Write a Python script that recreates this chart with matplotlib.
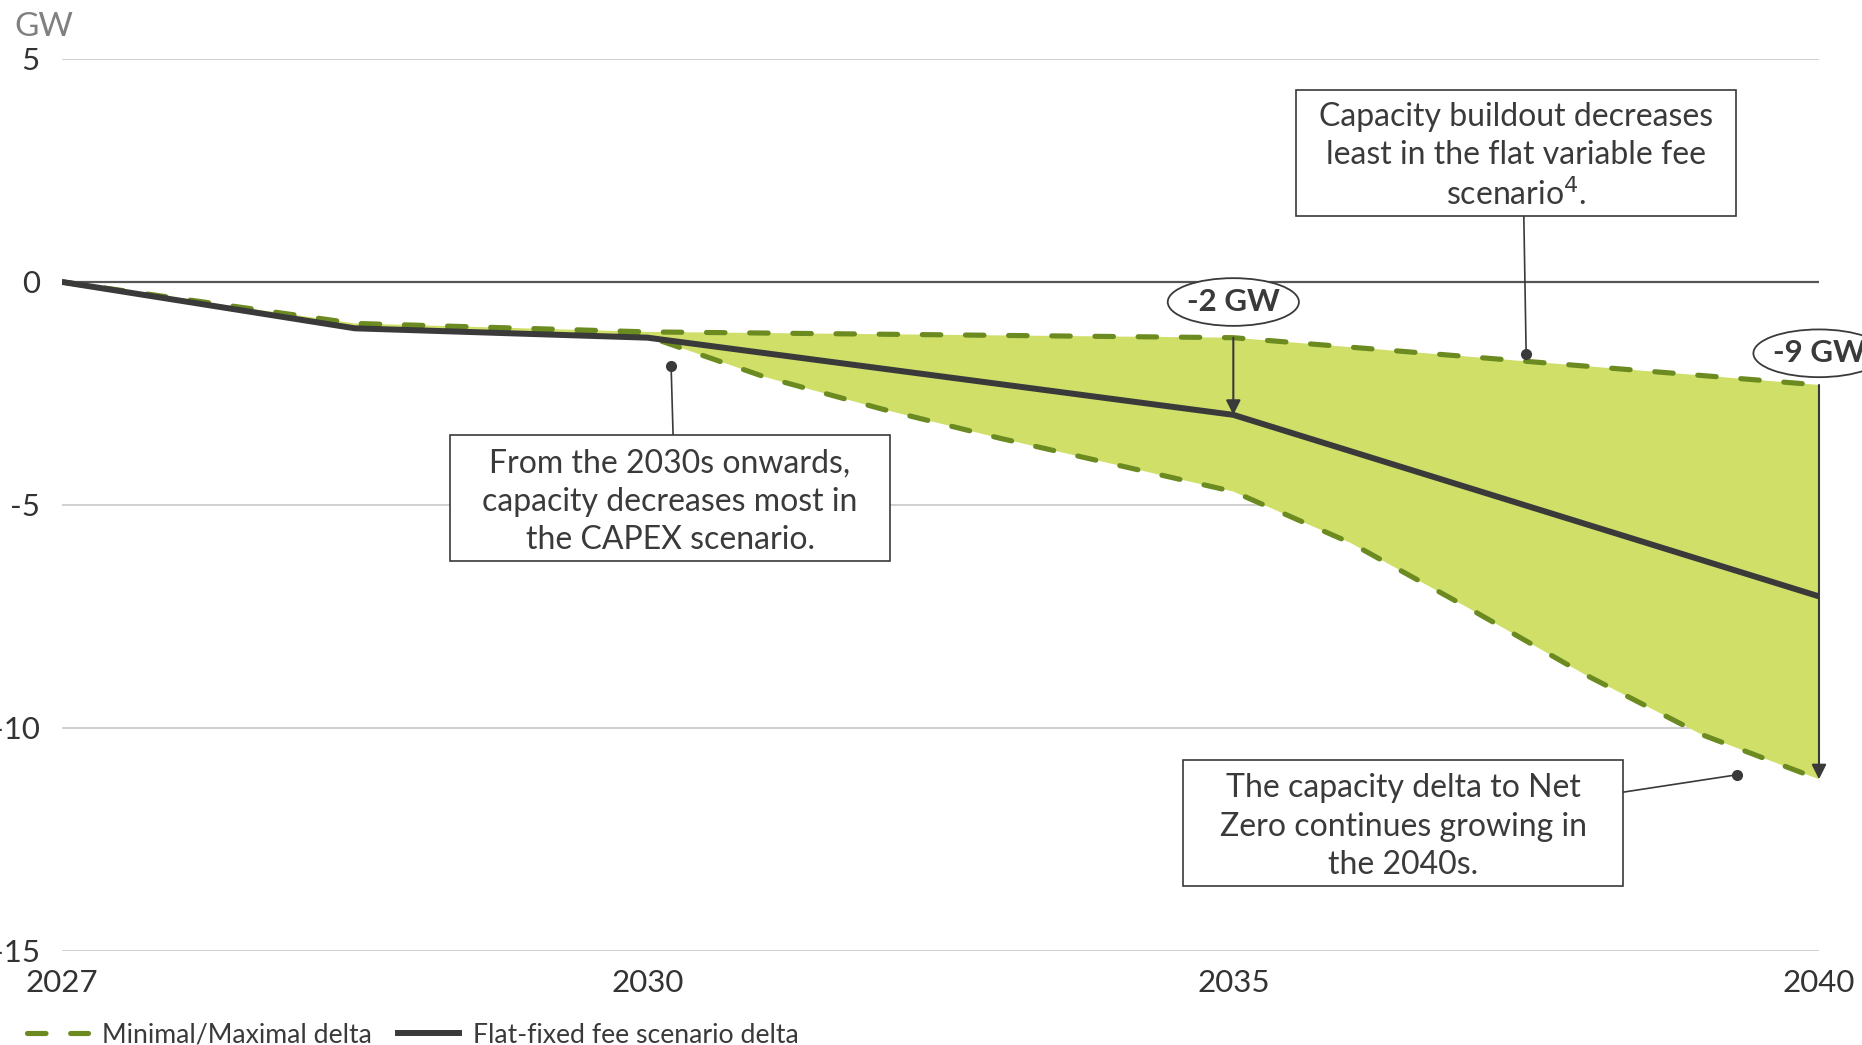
import numpy as np
import matplotlib
matplotlib.use("Agg")
import matplotlib.pyplot as plt
from matplotlib.patches import Ellipse, Rectangle
from matplotlib.lines import Line2D

plt.rcParams['font.family'] = ['Lato', 'DejaVu Sans']
plt.rcParams['axes.unicode_minus'] = False

# data (GW delta vs Net Zero)
years_upper = [2027, 2028.5, 2030, 2035, 2040]
upper = [0, -0.93, -1.12, -1.25, -2.31]

years_lower = [2027, 2028.5, 2030, 2031, 2032, 2033, 2034, 2035, 2036, 2037, 2038, 2039, 2040]
lower = [0, -1.0, -1.22, -2.13, -2.85, -3.5, -4.1, -4.7, -5.85, -7.3, -8.8, -10.15, -11.15]

years_flat = [2027, 2028.5, 2030, 2035, 2040]
flat = [0, -1.04, -1.25, -2.98, -7.05]

tick_years = [2027, 2030, 2035, 2040]
y_ticks = [5, 0, -5, -10, -15]
y_labels = ['5', '0', '-5', '-10', '-15']

GREEN = '#6b8a1f'
FILL = '#cfdf68'
DARK = '#3a3a3a'
GRID = '#c8c8c8'

# uneven year axis: 2027-2030 takes as much room as 2030-2035
ref_years = [2000, 2027, 2030, 2035, 2040, 2100]
ref_pos = [-9, 0, 1, 2, 3, 15]


def fwd(x):
    return np.interp(x, ref_years, ref_pos)


def inv(p):
    return np.interp(p, ref_pos, ref_years)


fig = plt.figure(figsize=(18.62, 10.45), dpi=100)
ax = fig.add_axes([0.0333, 0.0900, 0.9436, 0.8536])
ax.set_xscale('function', functions=(fwd, inv))
ax.set_xlim(2027, 2040)
ax.set_ylim(-15, 5)

for s in ax.spines.values():
    s.set_visible(False)
for y in y_ticks:
    if y == 0:
        ax.axhline(0, color='#555555', lw=1.6, zorder=1)
    else:
        ax.axhline(y, color=GRID, lw=1.2, zorder=0)

ax.set_yticks(y_ticks)
ax.set_yticklabels(y_labels)
ax.set_xticks(tick_years)
ax.set_xticklabels([str(t) for t in tick_years])
ax.xaxis.set_minor_locator(matplotlib.ticker.NullLocator())
ax.tick_params(axis='both', length=0, labelsize=22.5, colors='#333333')
ax.tick_params(axis='y', pad=16)
ax.tick_params(axis='x', pad=13)

# band between min and max
dash = (0, (3.6, 4.8))
ax.fill(years_upper + years_lower[::-1], upper + lower[::-1], color=FILL, lw=0, zorder=2)
ax.plot(years_upper, upper, color=GREEN, lw=3.7, ls=dash, dash_capstyle='round', zorder=3)
ax.plot(years_lower, lower, color=GREEN, lw=3.7, ls=dash, dash_capstyle='round', zorder=3)
ax.plot(years_flat, flat, color=DARK, lw=4.3, solid_capstyle='butt', zorder=4)

# arrows with gap labels
arrow_kw = dict(arrowstyle='-|>', color=DARK, lw=1.5, mutation_scale=22, shrinkA=0, shrinkB=0)
ax.annotate('', xy=(2035, flat[years_flat.index(2035)]), xytext=(2035, upper[years_upper.index(2035)]),
            arrowprops=arrow_kw, zorder=5)
ax.annotate('', xy=(2040, lower[-1]), xytext=(2040, upper[-1]),
            arrowprops=arrow_kw, zorder=5, annotation_clip=False)

for x, y, label in [(2035, -0.45, '-2 GW'), (2040, -1.6, '-9 GW')]:
    e = Ellipse((x, y), 1.12, 1.07, facecolor='white', edgecolor=DARK, lw=1.3, zorder=6, clip_on=False)
    ax.add_patch(e)
    ax.text(x, y, label, ha='center', va='center', fontsize=22.5, fontweight='bold',
            color=DARK, zorder=7, clip_on=False)

# callout boxes
boxes = [
    ((0.7023, 0.8240), 'Capacity buildout decreases\nleast in the flat variable fee\nscenario$^{4}$.'),
    ((0.2208, 0.4372), 'From the 2030s onwards,\ncapacity decreases most in\nthe CAPEX scenario.'),
    ((0.6380, 0.0729), 'The capacity delta to Net\nZero continues growing in\nthe 2040s.'),
]
bw, bh = 0.2505, 0.1412
for (x0, y0), txt in boxes:
    ax.add_patch(Rectangle((x0, y0), bw, bh, transform=ax.transAxes, facecolor='white',
                           edgecolor=DARK, lw=1.2, zorder=6))
    ax.text(x0 + bw / 2, y0 + bh / 2 - 0.004, txt, transform=ax.transAxes, ha='center', va='center',
            fontsize=23, color=DARK, linespacing=1.34, zorder=7)

# leaders: (dot year, dot value, box anchor in axes fraction)
leaders = [
    (2037.5, -1.62, (0.832, 0.8240)),
    (2030.2, -1.88, (0.3478, 0.5784)),
    (2039.3, -11.05, (0.8885, 0.178)),
]
for lx, ly, (ax_x, ax_y) in leaders:
    ax.annotate('', xy=(lx, ly), xytext=(ax_x, ax_y), textcoords='axes fraction',
                arrowprops=dict(arrowstyle='-', color=DARK, lw=1.2, shrinkA=0, shrinkB=0), zorder=5)
    ax.plot([lx], [ly], 'o', color=DARK, ms=7, zorder=5)

fig.text(14 / 1862, 1 - 27 / 1045, 'GW', ha='left', va='center', fontsize=24, color='#808080')

handles = [
    Line2D([], [], color=GREEN, lw=3.7, ls=(0, (3.6, 4.8)), dash_capstyle='round'),
    Line2D([], [], color=DARK, lw=4.3),
]
fig.legend(handles, ['Minimal/Maximal delta', 'Flat-fixed fee scenario delta'],
           loc='center left', bbox_to_anchor=(0.0145, 0.0095), ncol=2, frameon=False,
           fontsize=19.2, handlelength=2.3, handletextpad=0.53, columnspacing=0.95,
           borderpad=0, borderaxespad=0, labelcolor=DARK)

fig.savefig('out.png', dpi=100)
